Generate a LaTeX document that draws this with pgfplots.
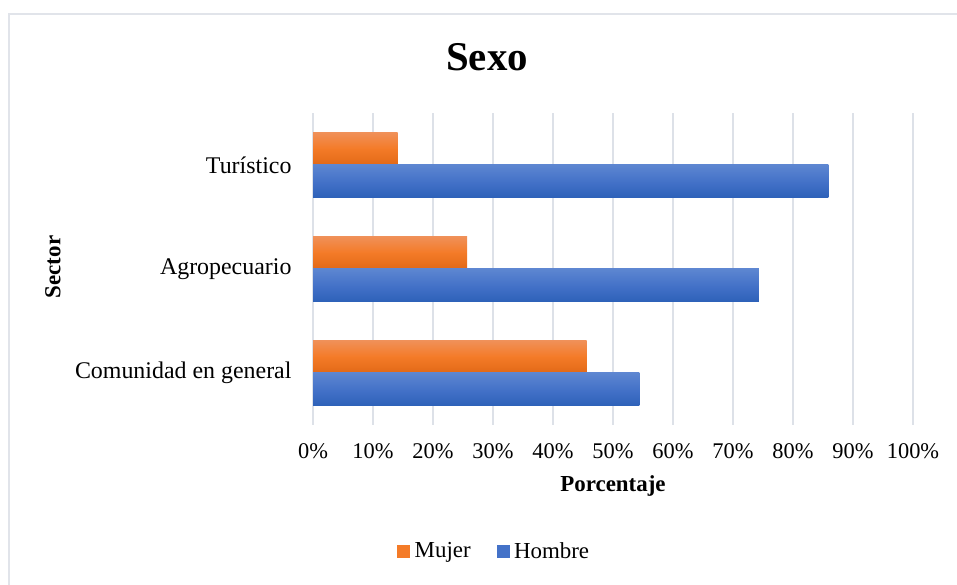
\documentclass[border=0pt]{standalone}
\usepackage{pgfplots}
\pgfplotsset{compat=1.18}
\usepackage{fontspec}
\setmainfont{Liberation Serif}
\definecolor{gridc}{HTML}{DDE1E8}
\definecolor{frame}{HTML}{E1E4EA}
\definecolor{orT}{HTML}{F0915A}
\definecolor{orM}{HTML}{F47B28}
\definecolor{orB}{HTML}{E26917}
\definecolor{blT}{HTML}{5D86D1}
\definecolor{blM}{HTML}{4472C8}
\definecolor{blB}{HTML}{2D61B8}
\begin{document}
\begin{tikzpicture}[x=1bp,y=1bp]
\path[use as bounding box] (0,0) rectangle (957,585);
\draw[frame, line width=2bp] (9,-10) -- (9,571) -- (970,571);
\node[font=\fontsize{41}{46}\selectfont\bfseries] at (487,528) {Sexo};
\begin{axis}[
  at={(313bp,160bp)}, anchor=south west,
  scale only axis, width=600bp, height=312bp,
  xmin=0, xmax=100, ymin=-0.5, ymax=2.5,
  xtick={0,10,...,100},
  xticklabel={\pgfmathprintnumber{\tick}\%},
  /pgf/number format/assume math mode=true,
  ytick={0,1,2},
  yticklabels={Comunidad en general, Agropecuario, Turístico},
  xmajorgrids, grid style={gridc, line width=1.2bp},
  axis line style={draw=none},
  major tick length=0pt,
  xticklabel style={yshift=-15bp, font=\fontsize{22.5}{26}\selectfont},
  yticklabel style={xshift=-18bp, font=\fontsize{24}{28}\selectfont},
  xbar, bar width=0.317,
  orbar/.style={draw=none, bar shift=0.1585, top color=orT, bottom color=orB, middle color=orM, forget plot},
  blbar/.style={draw=none, bar shift=-0.1585, top color=blT, bottom color=blB, middle color=blM, forget plot},
  legend style={at={(axis description cs:0.302,-0.404)}, anchor=center, draw=none, legend columns=2,
    font=\fontsize{23}{26}\selectfont,
    /tikz/every odd column/.append style={column sep=3bp},
    /tikz/every even column/.append style={column sep=24bp}},
  legend cell align=left,
]
% Mujer
\addplot[orbar] coordinates {(45.6,0)};
\addplot[orbar] coordinates {(25.7,1)};
\addplot[orbar] coordinates {(14.1,2)};
% Hombre
\addplot[blbar] coordinates {(54.4,0)};
\addplot[blbar] coordinates {(74.3,1)};
\addplot[blbar] coordinates {(85.9,2)};
\addlegendimage{legend image code/.code={\fill[orM] (0bp,-6bp) rectangle (12bp,6bp);}}
\addlegendentry{Mujer}
\addlegendimage{legend image code/.code={\fill[blM] (0bp,-6bp) rectangle (12bp,6bp);}}
\addlegendentry{Hombre}
\end{axis}
\node[font=\fontsize{23}{26}\selectfont\bfseries] at (613,99) {Porcentaje};
\node[font=\fontsize{23}{26}\selectfont\bfseries, rotate=90] at (53,318) {Sector};
\end{tikzpicture}
\end{document}
